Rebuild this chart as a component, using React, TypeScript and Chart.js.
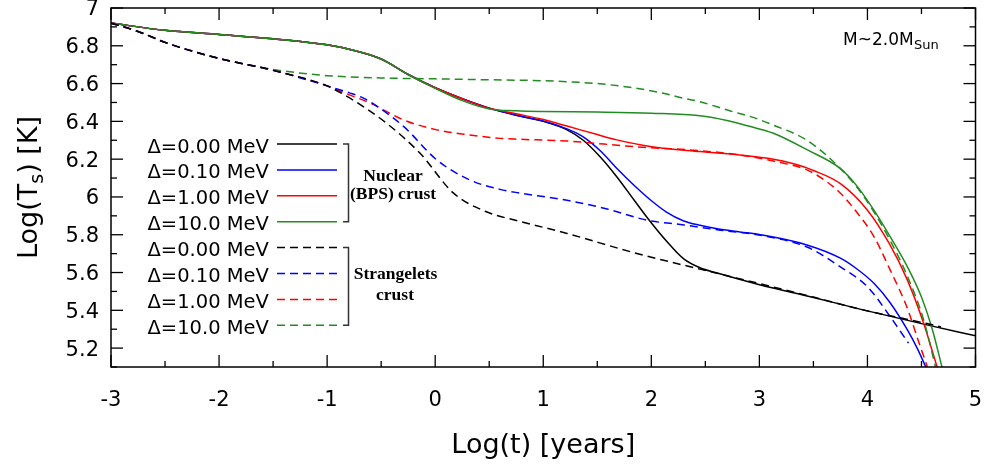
import { useEffect, useRef } from 'react';
import { Chart, registerables } from 'chart.js';

Chart.register(...registerables);

const SANS = '"DejaVu Sans", Verdana, sans-serif';
const SERIF = '"Liberation Serif", "Times New Roman", serif';

const X_MIN = -3;
const X_MAX = 5;
const Y_MIN = 5.1;
const Y_MAX = 7;

const xMajorTicks = [-3, -2, -1, 0, 1, 2, 3, 4, 5];
const xTickLabels = ['-3', '-2', '-1', '0', '1', '2', '3', '4', '5'];
const xMinorTicks = [-2.5, -1.5, -0.5, 0.5, 1.5, 2.5, 3.5, 4.5];
const yMajorTicks = [5.2, 5.4, 5.6, 5.8, 6, 6.2, 6.4, 6.6, 6.8, 7];
const yTickLabels = ['5.2', '5.4', '5.6', '5.8', '6', '6.2', '6.4', '6.6', '6.8', '7'];
const yMinorTicks = [5.1, 5.3, 5.5, 5.7, 5.9, 6.1, 6.3, 6.5, 6.7, 6.9];

// Nuclear (BPS) crust — solid curves
const nuclearStart: [number, number][] = [
  [-3, 6.92], [-2.5, 6.882], [-2, 6.86], [-1.5, 6.837], [-1, 6.805], [-0.75, 6.775],
  [-0.5, 6.73], [-0.25, 6.648], [0, 6.578], [0.25, 6.52], [0.5, 6.47],
];
const nuc000: [number, number][] = [
  [0.75, 6.432], [1, 6.4], [1.22, 6.355], [1.37, 6.3], [1.53, 6.21], [1.68, 6.107],
  [1.84, 5.984], [1.99, 5.87], [2.15, 5.76], [2.3, 5.672], [2.45, 5.625], [2.61, 5.597],
  [3.01, 5.534], [3.5, 5.468], [3.94, 5.405], [4.55, 5.323], [5.0, 5.265],
];
const nuc010: [number, number][] = [
  [0.75, 6.432], [1, 6.402], [1.22, 6.36], [1.37, 6.318], [1.53, 6.243], [1.68, 6.152],
  [1.84, 6.062], [1.99, 5.985], [2.14, 5.92], [2.3, 5.873], [2.45, 5.85], [2.61, 5.832],
  [2.82, 5.815], [3.01, 5.8], [3.44, 5.746], [3.75, 5.676], [3.9, 5.62], [4.06, 5.543],
  [4.21, 5.44], [4.37, 5.296], [4.46, 5.2], [4.54, 5.1],
];
const nuc100: [number, number][] = [
  [0.75, 6.44], [1, 6.41], [1.22, 6.375], [1.5, 6.33], [1.68, 6.302], [1.99, 6.267],
  [2.45, 6.24], [2.82, 6.222], [3.13, 6.2], [3.3, 6.178], [3.5, 6.14], [3.75, 6.07],
  [4.0, 5.93], [4.2, 5.755], [4.37, 5.56], [4.52, 5.332], [4.645, 5.1],
];
const nuc1000: [number, number][] = [
  [-3, 6.92], [-2.5, 6.882], [-2, 6.86], [-1.5, 6.837], [-1, 6.805], [-0.75, 6.775],
  [-0.5, 6.73], [-0.25, 6.648], [0, 6.575], [0.25, 6.51], [0.5, 6.466], [0.75, 6.456],
  [1, 6.452], [1.5, 6.449], [2, 6.443], [2.45, 6.43], [2.7, 6.405], [2.9, 6.375],
  [3.13, 6.337], [3.44, 6.25], [3.75, 6.15], [3.9, 6.06], [4.06, 5.93], [4.21, 5.79],
  [4.37, 5.63], [4.5, 5.47], [4.6, 5.3], [4.69, 5.1],
];

// Strangelets crust — dashed curves
const strangeStart: [number, number][] = [
  [-3, 6.92], [-2.75, 6.876], [-2.5, 6.818], [-2.25, 6.772], [-2, 6.733], [-1.5, 6.67], [-1, 6.588],
];
const str000: [number, number][] = [
  [-0.91, 6.562], [-0.76, 6.513], [-0.45, 6.39], [-0.14, 6.231], [0.17, 6.02], [0.48, 5.92],
  [0.79, 5.87], [1.22, 5.807], [1.84, 5.705], [2.45, 5.618], [3.01, 5.54], [3.5, 5.47],
  [3.94, 5.405], [4.55, 5.33], [4.68, 5.312],
];
const str010: [number, number][] = [
  [-0.8, 6.552], [-0.66, 6.522], [-0.5, 6.465], [-0.29, 6.372], [0.015, 6.196], [0.32, 6.09],
  [0.6, 6.04], [0.79, 6.02], [1.22, 5.982], [1.6, 5.935], [1.96, 5.877], [2.3, 5.852],
  [2.61, 5.826], [3.01, 5.797], [3.44, 5.735], [3.75, 5.63], [4.0, 5.525], [4.21, 5.367],
  [4.38, 5.226],
];
const str100: [number, number][] = [
  [-0.91, 6.566], [-0.6, 6.496], [-0.29, 6.407], [0.015, 6.355], [0.32, 6.328], [0.6, 6.31],
  [0.79, 6.305], [1.22, 6.296], [1.84, 6.266], [2.45, 6.245], [2.82, 6.222], [3.13, 6.19],
  [3.44, 6.143], [3.6, 6.09], [3.75, 6.02], [3.9, 5.92], [4.06, 5.79], [4.21, 5.614],
  [4.37, 5.41], [4.47, 5.24], [4.555, 5.1],
];
const str1000: [number, number][] = [
  [-3, 6.92], [-2.75, 6.876], [-2.5, 6.818], [-2.25, 6.772], [-2, 6.733], [-1.5, 6.675],
  [-1, 6.642], [-0.5, 6.63], [0, 6.625], [0.5, 6.62], [1, 6.615], [1.5, 6.6], [1.84, 6.577],
  [2.1, 6.55], [2.3, 6.522], [2.45, 6.504], [2.73, 6.455], [2.92, 6.425], [3.13, 6.38],
  [3.44, 6.3], [3.75, 6.15], [3.97, 6.0], [4.21, 5.77], [4.37, 5.58], [4.52, 5.35], [4.63, 5.1],
];

const legendLabels = ['Δ=0.00 MeV', 'Δ=0.10 MeV', 'Δ=1.00 MeV', 'Δ=10.0 MeV'];
const seriesColors = ['#000000', '#0000ff', '#ff0000', '#228b22'];
const DASH = [8, 5];

const toXY = (pts: [number, number][]) => pts.map(([x, y]) => ({ x, y }));

const overlayPlugin = {
  id: 'overlay',
  afterDatasetsDraw(chart: any) {
    const ctx = chart.ctx as CanvasRenderingContext2D;
    const { left, right, top, bottom } = chart.chartArea;
    const xs = chart.scales.x;
    const ys = chart.scales.y;
    ctx.save();
    // frame
    ctx.strokeStyle = '#000';
    ctx.lineWidth = 1.5;
    ctx.setLineDash([]);
    ctx.strokeRect(left, top, right - left, bottom - top);
    // ticks
    ctx.lineWidth = 1.3;
    const tick = (x1: number, y1: number, x2: number, y2: number) => {
      ctx.beginPath();
      ctx.moveTo(x1, y1);
      ctx.lineTo(x2, y2);
      ctx.stroke();
    };
    xMajorTicks.forEach((v) => {
      const p = xs.getPixelForValue(v);
      tick(p, bottom, p, bottom - 12);
      tick(p, top, p, top + 12);
    });
    xMinorTicks.forEach((v) => {
      const p = xs.getPixelForValue(v);
      tick(p, bottom, p, bottom - 6);
      tick(p, top, p, top + 6);
    });
    yMajorTicks.forEach((v) => {
      const p = ys.getPixelForValue(v);
      tick(left, p, left + 12, p);
      tick(right, p, right - 12, p);
    });
    yMinorTicks.forEach((v) => {
      const p = ys.getPixelForValue(v);
      tick(left, p, left + 6, p);
      tick(right, p, right - 6, p);
    });

    // legend
    const rowY = (i: number) => 144 + 25.9 * i;
    ctx.font = `19.5px ${SANS}`;
    ctx.fillStyle = '#000';
    ctx.textAlign = 'left';
    ctx.textBaseline = 'alphabetic';
    for (let i = 0; i < 8; i++) {
      const y = rowY(i);
      ctx.fillText(legendLabels[i % 4], 147.5, y + 8.5);
      ctx.strokeStyle = seriesColors[i % 4];
      ctx.lineWidth = 1.5;
      ctx.setLineDash(i < 4 ? [] : DASH);
      ctx.beginPath();
      ctx.moveTo(277, y);
      ctx.lineTo(337, y);
      ctx.stroke();
    }
    ctx.setLineDash([]);
    ctx.strokeStyle = '#333';
    ctx.lineWidth = 1.5;
    const bracket = (y1: number, y2: number) => {
      ctx.beginPath();
      ctx.moveTo(343, y1);
      ctx.lineTo(348.5, y1);
      ctx.lineTo(348.5, y2);
      ctx.lineTo(343, y2);
      ctx.stroke();
    };
    bracket(rowY(0), rowY(3));
    bracket(rowY(4), rowY(7));
    ctx.font = `bold 17.5px ${SERIF}`;
    ctx.fillStyle = '#000';
    ctx.textAlign = 'center';
    ctx.fillText('Nuclear', 393, 181);
    ctx.fillText('(BPS) crust', 393, 198.5);
    ctx.fillText('Strangelets', 395.5, 279);
    ctx.fillText('crust', 395, 299.5);

    // annotation
    ctx.textAlign = 'left';
    ctx.font = `17px ${SANS}`;
    ctx.fillText('M~2.0M', 843, 45);
    const w = ctx.measureText('M~2.0M').width;
    ctx.font = `13px ${SANS}`;
    ctx.fillText('Sun', 843 + w + 0.5, 49);

    // x title
    ctx.font = `27px ${SANS}`;
    ctx.textAlign = 'center';
    ctx.fillText('Log(t) [years]', (left + right) / 2, 453);

    // y title with subscript
    const mainFont = `27px ${SANS}`;
    const subFont = `19px ${SANS}`;
    ctx.font = mainFont;
    const a = 'Log(T';
    const c = ') [K]';
    const wa = ctx.measureText(a).width;
    const wc = ctx.measureText(c).width;
    ctx.font = subFont;
    const wb = ctx.measureText('s').width;
    const total = wa + wb + wc;
    ctx.translate(37, (top + bottom) / 2);
    ctx.rotate(-Math.PI / 2);
    ctx.textAlign = 'left';
    let x0 = -total / 2;
    ctx.font = mainFont;
    ctx.fillText(a, x0, 0);
    x0 += wa;
    ctx.font = subFont;
    ctx.fillText('s', x0, 6);
    x0 += wb;
    ctx.font = mainFont;
    ctx.fillText(c, x0, 0);
    ctx.restore();
  },
};

export default function App() {
  const ref = useRef<HTMLCanvasElement | null>(null);
  useEffect(() => {
    if (!ref.current) return;
    const solid = (pts: [number, number][], color: string) => ({
      data: toXY(pts),
      borderColor: color,
      borderWidth: 1.5,
      pointRadius: 0,
      fill: false,
      cubicInterpolationMode: 'monotone' as const,
    });
    const dashed = (pts: [number, number][], color: string) => ({
      ...solid(pts, color),
      borderDash: DASH,
    });
    const chart = new Chart(ref.current, {
      type: 'line',
      data: {
        datasets: [
          dashed([...strangeStart, ...str000], seriesColors[0]),
          dashed([...strangeStart, ...str010], seriesColors[1]),
          dashed([...strangeStart, ...str100], seriesColors[2]),
          dashed(str1000, seriesColors[3]),
          solid(nuc1000, seriesColors[3]),
          solid([...nuclearStart, ...nuc100], seriesColors[2]),
          solid([...nuclearStart, ...nuc010], seriesColors[1]),
          solid([...nuclearStart, ...nuc000], seriesColors[0]),
        ] as any,
      },
      options: {
        animation: false,
        responsive: false,
        devicePixelRatio: 1,
        layout: { padding: { left: 0, top: 8, right: 15.5, bottom: 0 } },
        plugins: { legend: { display: false }, tooltip: { enabled: false } },
        scales: {
          x: {
            type: 'linear',
            min: X_MIN,
            max: X_MAX,
            afterBuildTicks: (s: any) => {
              s.ticks = xMajorTicks.map((v) => ({ value: v }));
            },
            afterFit: (s: any) => {
              s.height = 102;
              s.paddingLeft = 0;
              s.paddingRight = 0;
            },
            ticks: {
              autoSkip: false,
              maxRotation: 0,
              padding: 21,
              color: '#000',
              font: { family: SANS, size: 21 },
              callback: (v: any) => xTickLabels[xMajorTicks.indexOf(Number(v))] ?? '',
            },
            grid: { display: false, drawTicks: false },
            border: { display: false },
          },
          y: {
            type: 'linear',
            min: Y_MIN,
            max: Y_MAX,
            afterBuildTicks: (s: any) => {
              s.ticks = yMajorTicks.map((v) => ({ value: v }));
            },
            afterFit: (s: any) => {
              s.width = 111;
              s.paddingTop = 0;
              s.paddingBottom = 0;
            },
            ticks: {
              autoSkip: false,
              padding: 12,
              labelOffset: 2,
              color: '#000',
              font: { family: SANS, size: 21 },
              callback: (v: any) => {
                const i = yMajorTicks.findIndex((t) => Math.abs(t - Number(v)) < 1e-6);
                return i >= 0 ? yTickLabels[i] : '';
              },
            },
            grid: { display: false, drawTicks: false },
            border: { display: false },
          },
        },
      },
      plugins: [overlayPlugin],
    });
    return () => chart.destroy();
  }, []);
  return (
    <div style={{ position: 'absolute', left: 0, top: 0, width: 991, height: 469, background: '#fff' }}>
      <canvas ref={ref} width={991} height={469} style={{ width: 991, height: 469 }} />
    </div>
  );
}
